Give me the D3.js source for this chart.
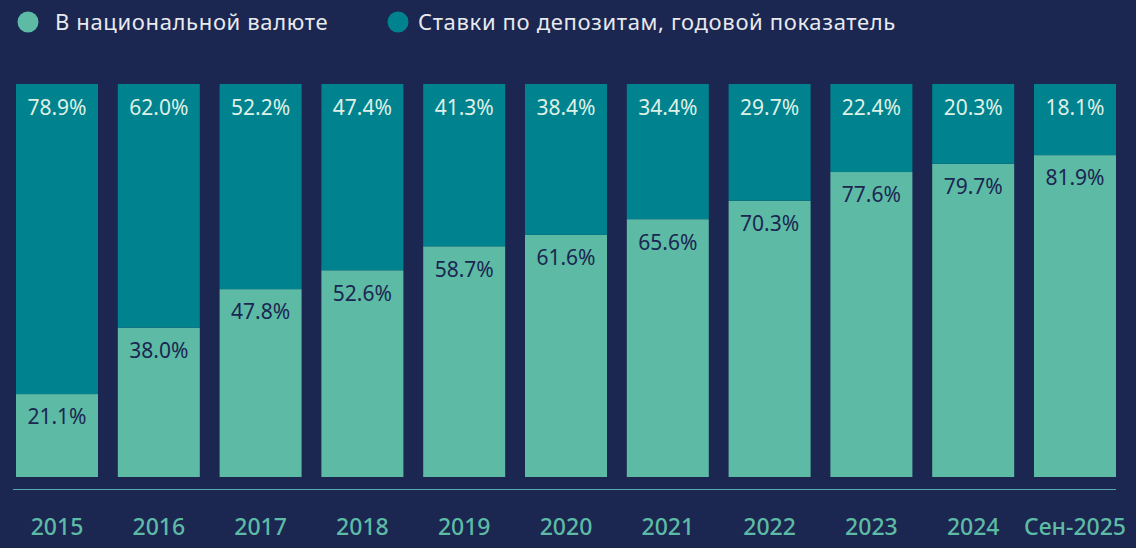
<!DOCTYPE html>
<html>
<head>
<meta charset="utf-8">
<script src="https://cdn.jsdelivr.net/npm/d3@7"></script>
<style>
  html, body { margin: 0; padding: 0; background: #1b2651; }
  svg { display: block; font-family: "Noto Sans", sans-serif; }
</style>
</head>
<body>
<div class="chart"></div>
<script>
const categories = ["2015", "2016", "2017", "2018", "2019", "2020", "2021", "2022", "2023", "2024", "Сен-2025"];
const national = [21.1, 38.0, 47.8, 52.6, 58.7, 61.6, 65.6, 70.3, 77.6, 79.7, 81.9];
const foreign = [78.9, 62.0, 52.2, 47.4, 41.3, 38.4, 34.4, 29.7, 22.4, 20.3, 18.1];
const seriesNames = ["В национальной валюте", "Ставки по депозитам, годовой показатель"];

const width = 1136;
const height = 548;
const colNational = "#5dbba5";
const colForeign = "#00838e";

const svg = d3.select(".chart")
    .append("svg")
    .attr("width", width)
    .attr("height", height);

svg.append("rect")
    .attr("width", width)
    .attr("height", height)
    .attr("fill", "#1b2651");

const x = d3.scaleBand()
    .domain(categories)
    .range([16, 1116])
    .paddingInner(0.1945)
    .paddingOuter(0);

const y = d3.scaleLinear()
    .domain([0, 100])
    .range([477, 84]);

const rows = categories.map((c, i) => ({ cat: c, nat: national[i], fx: foreign[i] }));

// national currency (bottom)
svg.selectAll("rect.nat")
    .data(rows)
    .join("rect")
    .attr("class", "nat")
    .attr("x", d => x(d.cat))
    .attr("width", x.bandwidth())
    .attr("y", d => y(d.nat))
    .attr("height", d => y(0) - y(d.nat))
    .attr("fill", colNational);

// foreign (top)
svg.selectAll("rect.fx")
    .data(rows)
    .join("rect")
    .attr("class", "fx")
    .attr("x", d => x(d.cat))
    .attr("width", x.bandwidth())
    .attr("y", d => y(d.nat + d.fx))
    .attr("height", d => y(d.nat) - y(d.nat + d.fx))
    .attr("fill", colForeign);

svg.selectAll("text.fx-label")
    .data(rows)
    .join("text")
    .attr("class", "fx-label")
    .attr("x", d => x(d.cat) + x.bandwidth() / 2)
    .attr("y", d => y(d.nat + d.fx) + 24)
    .attr("dy", "0.35em")
    .attr("text-anchor", "middle")
    .attr("font-size", 21)
    .attr("fill", "#dff0e6")
    .text(d => d.fx.toFixed(1) + "%");

svg.selectAll("text.nat-label")
    .data(rows)
    .join("text")
    .attr("class", "nat-label")
    .attr("x", d => x(d.cat) + x.bandwidth() / 2)
    .attr("y", d => y(d.nat) + 23)
    .attr("dy", "0.35em")
    .attr("text-anchor", "middle")
    .attr("font-size", 21)
    .attr("fill", "#1b2651")
    .text(d => d.nat.toFixed(1) + "%");

// axis
const axis = svg.append("g")
    .attr("transform", "translate(0,489)")
    .call(d3.axisBottom(x).tickSize(0).tickPadding(30));

axis.select(".domain")
    .attr("d", "M13,0.5H1116")
    .attr("stroke", "#5aa9ad")
    .attr("stroke-width", 1);

axis.selectAll(".tick text")
    .attr("font-family", "Noto Sans, sans-serif")
    .attr("font-size", 23)
    .attr("font-weight", 500)
    .attr("fill", "#5dbba5");

// legend
const legend = svg.append("g");
const legendX = [28, 398];
const legendTextX = [55, 418];
const legendColors = [colNational, colForeign];

legend.selectAll("circle")
    .data(seriesNames)
    .join("circle")
    .attr("cx", (d, i) => legendX[i])
    .attr("cy", 22)
    .attr("r", 10.5)
    .attr("fill", (d, i) => legendColors[i]);

legend.selectAll("text")
    .data(seriesNames)
    .join("text")
    .attr("x", (d, i) => legendTextX[i])
    .attr("y", 22)
    .attr("dy", "0.35em")
    .attr("font-size", 22)
    .attr("letter-spacing", 0.65)
    .attr("fill", "#e8eaee")
    .text(d => d);
</script>
</body>
</html>
